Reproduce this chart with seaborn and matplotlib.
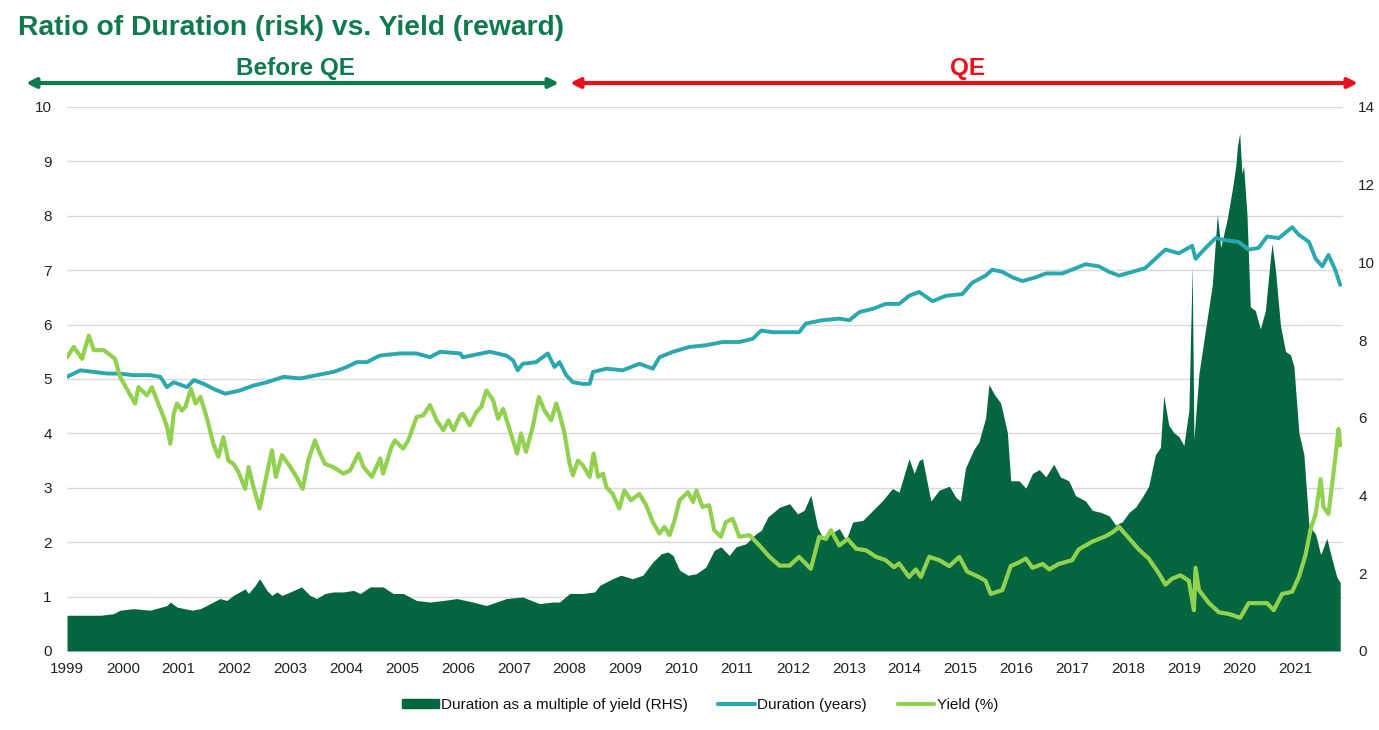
import numpy as np
import pandas as pd
import matplotlib
matplotlib.use('Agg')
import matplotlib.pyplot as plt
import matplotlib.patches as mpatches
import matplotlib.lines as mlines
import seaborn as sns

# Yield (%) - left axis
yield_x = [1999.00, 1999.12, 1999.27, 1999.39, 1999.48, 1999.66, 1999.86, 1999.95, 2000.07, 2000.22,
           2000.28, 2000.43, 2000.52, 2000.61, 2000.73, 2000.79, 2000.85, 2000.91, 2000.97, 2001.06,
           2001.12, 2001.22, 2001.30, 2001.39, 2001.50, 2001.62, 2001.71, 2001.80, 2001.89, 2001.98,
           2002.07, 2002.19, 2002.25, 2002.34, 2002.45, 2002.58, 2002.67, 2002.74, 2002.85, 2003.00,
           2003.11, 2003.22, 2003.32, 2003.44, 2003.53, 2003.62, 2003.77, 2003.95, 2004.07, 2004.22,
           2004.31, 2004.46, 2004.61, 2004.66, 2004.81, 2004.87, 2005.02, 2005.11, 2005.26, 2005.38,
           2005.50, 2005.62, 2005.74, 2005.83, 2005.92, 2006.04, 2006.09, 2006.21, 2006.33, 2006.42,
           2006.51, 2006.63, 2006.72, 2006.81, 2006.93, 2007.06, 2007.13, 2007.22, 2007.34, 2007.45,
           2007.55, 2007.67, 2007.76, 2007.82, 2007.91, 2008.00, 2008.06, 2008.15, 2008.24, 2008.36,
           2008.43, 2008.51, 2008.60, 2008.66, 2008.77, 2008.89, 2008.98, 2009.10, 2009.25, 2009.37,
           2009.49, 2009.61, 2009.70, 2009.79, 2009.88, 2009.97, 2010.12, 2010.21, 2010.27, 2010.38,
           2010.50, 2010.59, 2010.71, 2010.80, 2010.92, 2011.04, 2011.22, 2011.40, 2011.58, 2011.76,
           2011.94, 2012.11, 2012.32, 2012.47, 2012.59, 2012.68, 2012.83, 2012.98, 2013.13, 2013.31,
           2013.49, 2013.66, 2013.81, 2013.90, 2014.08, 2014.20, 2014.29, 2014.44, 2014.62, 2014.80,
           2014.98, 2015.12, 2015.33, 2015.45, 2015.54, 2015.75, 2015.90, 2016.05, 2016.17, 2016.29,
           2016.47, 2016.59, 2016.76, 2017.00, 2017.12, 2017.36, 2017.60, 2017.72, 2017.84, 2017.96,
           2018.19, 2018.37, 2018.55, 2018.67, 2018.79, 2018.94, 2019.09, 2019.18, 2019.21, 2019.27,
           2019.45, 2019.63, 2019.81, 2020.01, 2020.16, 2020.34, 2020.49, 2020.61, 2020.76, 2020.94,
           2021.06, 2021.18, 2021.27, 2021.36, 2021.45, 2021.50, 2021.59, 2021.68, 2021.77, 2021.80]
yield_pct = [5.40, 5.59, 5.37, 5.80, 5.53, 5.53, 5.37, 5.04, 4.82, 4.55,
             4.85, 4.70, 4.85, 4.61, 4.30, 4.12, 3.81, 4.36, 4.55, 4.42,
             4.49, 4.82, 4.55, 4.67, 4.30, 3.81, 3.57, 3.93, 3.50, 3.44,
             3.29, 2.98, 3.38, 3.01, 2.62, 3.26, 3.69, 3.20, 3.60, 3.38,
             3.20, 2.98, 3.50, 3.87, 3.63, 3.44, 3.38, 3.26, 3.32, 3.63,
             3.38, 3.20, 3.54, 3.26, 3.75, 3.87, 3.72, 3.87, 4.30, 4.33,
             4.52, 4.24, 4.06, 4.24, 4.06, 4.33, 4.36, 4.15, 4.39, 4.49,
             4.79, 4.61, 4.27, 4.45, 4.06, 3.63, 4.00, 3.66, 4.12, 4.67,
             4.42, 4.24, 4.55, 4.36, 4.00, 3.44, 3.23, 3.50, 3.41, 3.20,
             3.63, 3.20, 3.26, 3.01, 2.89, 2.62, 2.95, 2.77, 2.89, 2.68,
             2.37, 2.16, 2.28, 2.13, 2.40, 2.77, 2.92, 2.74, 2.95, 2.65,
             2.68, 2.22, 2.10, 2.37, 2.43, 2.10, 2.13, 1.94, 1.73, 1.57,
             1.57, 1.73, 1.51, 2.10, 2.06, 2.22, 1.94, 2.06, 1.88, 1.85,
             1.73, 1.67, 1.54, 1.61, 1.36, 1.50, 1.36, 1.73, 1.67, 1.56,
             1.73, 1.46, 1.36, 1.29, 1.05, 1.12, 1.56, 1.63, 1.70, 1.53,
             1.60, 1.50, 1.60, 1.67, 1.87, 2.01, 2.11, 2.18, 2.28, 2.14,
             1.87, 1.70, 1.43, 1.22, 1.33, 1.39, 1.29, 0.75, 1.53, 1.12,
             0.88, 0.71, 0.68, 0.61, 0.88, 0.88, 0.88, 0.75, 1.05, 1.09,
             1.36, 1.77, 2.24, 2.52, 3.16, 2.65, 2.52, 3.27, 4.08, 3.78]

# Duration (years) - left axis
dur_x = [1999.00, 1999.24, 1999.48, 1999.72, 1999.95, 2000.19, 2000.49, 2000.67, 2000.79, 2000.91,
         2001.15, 2001.27, 2001.45, 2001.62, 2001.83, 2002.10, 2002.34, 2002.58, 2002.88, 2003.17,
         2003.47, 2003.77, 2004.01, 2004.19, 2004.37, 2004.60, 2004.96, 2005.26, 2005.50, 2005.68,
         2006.04, 2006.09, 2006.57, 2006.87, 2006.99, 2007.07, 2007.16, 2007.40, 2007.61, 2007.73,
         2007.82, 2007.94, 2008.06, 2008.24, 2008.36, 2008.42, 2008.66, 2008.95, 2009.25, 2009.49,
         2009.61, 2009.85, 2010.15, 2010.44, 2010.74, 2011.04, 2011.28, 2011.43, 2011.64, 2011.94,
         2012.11, 2012.23, 2012.53, 2012.83, 2013.01, 2013.19, 2013.43, 2013.66, 2013.90, 2014.08,
         2014.26, 2014.50, 2014.74, 2015.03, 2015.21, 2015.45, 2015.57, 2015.75, 2015.93, 2016.11,
         2016.35, 2016.53, 2016.82, 2017.00, 2017.24, 2017.48, 2017.66, 2017.84, 2018.08, 2018.31,
         2018.49, 2018.67, 2018.91, 2019.15, 2019.21, 2019.39, 2019.57, 2019.75, 2019.98, 2020.16,
         2020.34, 2020.49, 2020.70, 2020.94, 2021.06, 2021.24, 2021.36, 2021.48, 2021.59, 2021.71,
         2021.80]
duration = [5.04, 5.16, 5.13, 5.10, 5.10, 5.07, 5.07, 5.04, 4.85, 4.94,
            4.85, 4.98, 4.91, 4.82, 4.73, 4.79, 4.88, 4.94, 5.04, 5.01,
            5.07, 5.13, 5.22, 5.31, 5.31, 5.43, 5.47, 5.47, 5.40, 5.50,
            5.47, 5.40, 5.50, 5.43, 5.34, 5.16, 5.28, 5.31, 5.47, 5.22,
            5.31, 5.07, 4.94, 4.91, 4.91, 5.13, 5.19, 5.16, 5.28, 5.19,
            5.40, 5.50, 5.59, 5.62, 5.68, 5.68, 5.74, 5.89, 5.86, 5.86,
            5.86, 6.02, 6.08, 6.11, 6.08, 6.23, 6.29, 6.38, 6.38, 6.53,
            6.60, 6.43, 6.53, 6.56, 6.77, 6.90, 7.01, 6.97, 6.87, 6.80,
            6.87, 6.94, 6.94, 7.01, 7.11, 7.07, 6.97, 6.90, 6.97, 7.04,
            7.21, 7.38, 7.31, 7.45, 7.21, 7.41, 7.59, 7.55, 7.52, 7.38,
            7.41, 7.62, 7.59, 7.79, 7.65, 7.52, 7.21, 7.07, 7.28, 7.01,
            6.73]

# Duration as a multiple of yield - right axis
ratio_x = [1999.00, 1999.36, 1999.60, 1999.83, 1999.95, 2000.19, 2000.49, 2000.79, 2000.85, 2000.97,
           2001.24, 2001.39, 2001.62, 2001.74, 2001.86, 2001.98, 2002.19, 2002.25, 2002.37, 2002.45,
           2002.58, 2002.67, 2002.76, 2002.85, 2003.00, 2003.20, 2003.35, 2003.47, 2003.62, 2003.77,
           2003.95, 2004.13, 2004.25, 2004.43, 2004.66, 2004.84, 2005.02, 2005.26, 2005.50, 2005.74,
           2005.98, 2006.27, 2006.51, 2006.87, 2007.16, 2007.46, 2007.70, 2007.82, 2008.00, 2008.24,
           2008.45, 2008.54, 2008.77, 2008.92, 2009.13, 2009.31, 2009.49, 2009.64, 2009.76, 2009.85,
           2009.97, 2010.12, 2010.27, 2010.44, 2010.59, 2010.71, 2010.86, 2010.98, 2011.16, 2011.34,
           2011.43, 2011.55, 2011.76, 2011.94, 2012.08, 2012.20, 2012.32, 2012.44, 2012.53, 2012.68,
           2012.83, 2012.95, 2013.07, 2013.25, 2013.43, 2013.61, 2013.78, 2013.90, 2014.02, 2014.08,
           2014.17, 2014.26, 2014.32, 2014.41, 2014.47, 2014.62, 2014.80, 2014.92, 2015.00, 2015.09,
           2015.24, 2015.33, 2015.45, 2015.51, 2015.60, 2015.72, 2015.84, 2015.90, 2016.05, 2016.17,
           2016.29, 2016.41, 2016.53, 2016.67, 2016.79, 2016.94, 2017.06, 2017.24, 2017.36, 2017.51,
           2017.66, 2017.78, 2017.90, 2018.02, 2018.14, 2018.25, 2018.37, 2018.49, 2018.58, 2018.64,
           2018.73, 2018.82, 2018.91, 2019.00, 2019.09, 2019.15, 2019.18, 2019.27, 2019.39, 2019.51,
           2019.60, 2019.66, 2019.78, 2019.87, 2019.93, 2019.96, 2020.00, 2020.04, 2020.07, 2020.13,
           2020.19, 2020.28, 2020.37, 2020.46, 2020.55, 2020.58, 2020.64, 2020.73, 2020.82, 2020.91,
           2020.97, 2021.06, 2021.15, 2021.24, 2021.36, 2021.45, 2021.56, 2021.65, 2021.74, 2021.80]
ratio = [0.92, 0.92, 0.92, 0.96, 1.05, 1.09, 1.05, 1.17, 1.26, 1.13,
         1.05, 1.09, 1.26, 1.35, 1.30, 1.43, 1.60, 1.48, 1.69, 1.86,
         1.56, 1.43, 1.52, 1.43, 1.52, 1.65, 1.43, 1.35, 1.48, 1.52,
         1.52, 1.56, 1.48, 1.65, 1.65, 1.48, 1.48, 1.30, 1.26, 1.30,
         1.35, 1.26, 1.17, 1.35, 1.39, 1.22, 1.26, 1.26, 1.48, 1.48,
         1.52, 1.69, 1.86, 1.95, 1.86, 1.95, 2.29, 2.50, 2.55, 2.46,
         2.08, 1.95, 1.99, 2.16, 2.59, 2.68, 2.46, 2.68, 2.76, 3.02,
         3.10, 3.45, 3.70, 3.79, 3.53, 3.62, 4.01, 3.19, 2.93, 3.02,
         3.15, 2.85, 3.32, 3.36, 3.62, 3.88, 4.18, 4.09, 4.67, 4.95,
         4.57, 4.90, 4.95, 4.29, 3.86, 4.14, 4.24, 3.95, 3.86, 4.71,
         5.19, 5.38, 6.00, 6.86, 6.62, 6.38, 5.62, 4.38, 4.38, 4.19,
         4.57, 4.67, 4.48, 4.81, 4.48, 4.38, 4.00, 3.86, 3.62, 3.57,
         3.48, 3.24, 3.33, 3.57, 3.71, 3.95, 4.24, 5.05, 5.24, 6.57,
         5.81, 5.62, 5.52, 5.29, 6.19, 9.90, 5.43, 7.14, 8.29, 9.43,
         11.24, 10.38, 11.14, 11.90, 12.48, 13.00, 13.33, 12.29, 12.48, 11.24,
         8.86, 8.76, 8.29, 8.76, 10.10, 10.48, 9.81, 8.38, 7.71, 7.62,
         7.33, 5.62, 5.05, 3.24, 3.00, 2.48, 2.90, 2.38, 1.90, 1.76]

years = list(range(1999, 2022))

c_area = '#03663F'
c_dur = '#2AA7AF'
c_yield = '#92D050'
c_title = '#107A4F'
c_red = '#E8101A'

sns.set_style('white')
plt.rcParams['font.family'] = ['Liberation Sans', 'DejaVu Sans']

fig = plt.figure(figsize=(13.79, 7.30), dpi=100)
ax = fig.add_axes([67 / 1379, 1 - 651 / 730, (1343 - 67) / 1379, (651 - 107) / 730])
ax2 = ax.twinx()
ax3 = ax.twinx()
ax.set_zorder(1)
ax2.set_zorder(2)
ax3.set_zorder(3)
for a in (ax2, ax3):
    a.patch.set_visible(False)

# grid (left scale) in the back
ax.set_ylim(0, 10)
ax.set_yticks(range(0, 11))
ax.yaxis.grid(True, color='#D9D9D9', linewidth=1)
ax.xaxis.grid(False)

# area on right scale
ax2.fill_between(ratio_x, ratio, 0, color=c_area, linewidth=0)
ax2.set_ylim(0, 14)
ax2.set_yticks(range(0, 15, 2))

# lines on left scale
df_d = pd.DataFrame({'x': dur_x, 'y': duration})
df_y = pd.DataFrame({'x': yield_x, 'y': yield_pct})
sns.lineplot(data=df_d, x='x', y='y', ax=ax3, color=c_dur, linewidth=2.8)
sns.lineplot(data=df_y, x='x', y='y', ax=ax3, color=c_yield, linewidth=3)
ax3.set_ylim(0, 10)
ax3.set_yticks([])
ax3.set_xlabel('')
ax3.set_ylabel('')

for a in (ax, ax2, ax3):
    a.set_xlim(1999, 2021.85)
    for s in a.spines.values():
        s.set_visible(False)
ax.set_xticks(years)
ax.set_xticklabels([str(y) for y in years])
ax.tick_params(axis='y', length=0, labelsize=11, colors='#222222', pad=11)
ax.tick_params(axis='x', length=0, labelsize=11, colors='#222222', pad=8)
ax2.tick_params(axis='y', length=0, labelsize=11, colors='#222222', pad=11)
ax3.tick_params(axis='x', bottom=False, labelbottom=False)

# title and QE annotations
fig.text(18 / 1379, 1 - 28 / 730, 'Ratio of Duration (risk) vs. Yield (reward)', fontsize=20.3,
         fontweight='bold', color=c_title, va='center', ha='left')
ya = 1 - 83 / 730
fig.patches.append(mpatches.FancyArrowPatch((26 / 1379, ya), (559 / 1379, ya), transform=fig.transFigure,
                                            arrowstyle='<|-|>', mutation_scale=14, color=c_title, lw=3,
                                            shrinkA=0, shrinkB=0))
fig.patches.append(mpatches.FancyArrowPatch((570 / 1379, ya), (1358 / 1379, ya), transform=fig.transFigure,
                                            arrowstyle='<|-|>', mutation_scale=14, color=c_red, lw=3,
                                            shrinkA=0, shrinkB=0))
fig.text(295 / 1379, 1 - 68 / 730, 'Before QE', fontsize=17.5, fontweight='bold', color=c_title,
         ha='center', va='center')
fig.text(968 / 1379, 1 - 68 / 730, 'QE', fontsize=17.5, fontweight='bold', color=c_red,
         ha='center', va='center')

handles = [mpatches.Patch(color=c_area),
           mlines.Line2D([], [], color=c_dur, linewidth=3),
           mlines.Line2D([], [], color=c_yield, linewidth=3)]
labels = ['Duration as a multiple of yield (RHS)', 'Duration (years)', 'Yield (%)']
fig.legend(handles, labels, loc='center', bbox_to_anchor=(700 / 1379, 1 - 705 / 730), ncol=3,
           frameon=False, fontsize=11, handlelength=2.4, handleheight=0.5, columnspacing=2.0,
           handletextpad=0.15, labelcolor='#111111')

fig.savefig('out.png', dpi=100)
